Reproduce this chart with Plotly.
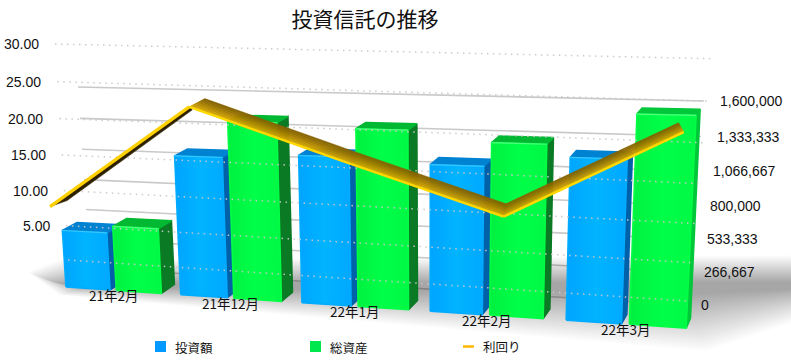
import numpy as np
import plotly.graph_objects as go

# ---------- data ----------
categories = ["21年2月", "21年12月", "22年1月", "22年2月", "22年3月"]
invested = [475000, 1120000, 1155000, 1120000, 1205000]
assets = [530000, 1400000, 1370000, 1295000, 1525000]
yields = [7.6, 22.2, 15.8, 9.6, 21.2]
left_ticks = [0, 5, 10, 15, 20, 25, 30]
left_labels = ["", "5.00", "10.00", "15.00", "20.00", "25.00", "30.00"]
right_ticks = [0, 266667, 533333, 800000, 1066667, 1333333, 1600000]
right_labels = ["0", "266,667", "533,333", "800,000", "1,066,667", "1,333,333", "1,600,000"]
title = "投資信託の推移"
names = ["投資額", "総資産", "利回り"]

# ---------- perspective helpers ----------
def homography(corners):
    """corners: (u, v) -> (x, y) for four points"""
    A, b = [], []
    for (u, v), (x, y) in corners:
        A.append([u, v, 1, 0, 0, 0, -u * x, -v * x]); b.append(x)
        A.append([0, 0, 0, u, v, 1, -u * y, -v * y]); b.append(y)
    h = np.linalg.solve(np.array(A, float), np.array(b, float))
    def f(u, v):
        w = h[6] * u + h[7] * v + 1
        return np.array([(h[0] * u + h[1] * v + h[2]) / w, (h[3] * u + h[4] * v + h[5]) / w])
    return f

VMAX = right_ticks[-1]
LMAX = left_ticks[-1]
bar_plane = homography([((0, 0), (66, 287)), ((5, 0), (710.6, 329.7)),
                        ((0, VMAX), (53.5, 92)), ((5, VMAX), (722, 105))])
dot_plane = homography([((0, 0), (68, 260)), ((1, 0), (687, 301)),
                        ((0, LMAX), (55, 44)), ((1, LMAX), (711, 58.7))])
solid_plane = homography([((0, 0), (90, 268)), ((1, 0), (685, 305)),
                          ((0, VMAX), (78, 87)), ((1, VMAX), (704, 101))])
line_plane = homography([((0, 0), (53.3, 259)), ((4, 0), (667.8, 300)),
                         ((0, LMAX), (40, 43.7)), ((4, LMAX), (690.8, 58))])

VP = np.array([943.0, -252.0]); DEPTH = 1 / 60
VP_LINE = np.array([560.0, -90.0]); DEPTH_LINE = 0.042
UNDER_START = np.array([17.0, -6.0]); UNDER_END = np.array([3.0, 3.0])
def deep(p, d=DEPTH, vp=VP):
    return p + d * (vp - p)

fig = go.Figure()
def poly(points, color, lw=0.0, grad=None, name=None):
    pts = np.array(points + [points[0]])
    kw = dict(fillcolor=color) if grad is None else dict(
        fillgradient=dict(type="horizontal", colorscale=grad))
    fig.add_trace(go.Scatter(x=pts[:, 0], y=pts[:, 1], mode="lines", fill="toself",
                             line=dict(color=color, width=lw), showlegend=False,
                             hoverinfo="skip", name=name, **kw))
def seg(a, b, color, width, dash=None):
    fig.add_trace(go.Scatter(x=[a[0], b[0]], y=[a[1], b[1]], mode="lines",
                             line=dict(color=color, width=width, dash=dash),
                             showlegend=False, hoverinfo="skip"))

# ---------- back grid ----------
for v in right_ticks:
    seg(solid_plane(0, v), solid_plane(1, v), "#c9c9c9", 1.6)

# ---------- floor shadow ----------
shadow = np.array([(50, 277), (80, 269), (830, 266), (830, 296), (690, 328), (80, 292)], float)
cx, cy = 420.0, 286.0
LAYERS = 30
for k in range(LAYERS):
    t = k / (LAYERS - 1)
    sx = 1.06 - 0.08 * t
    sy = 1.55 - 1.35 * t
    pts = [np.array([cx + (p[0] - cx) * sx, cy + (p[1] - cy) * sy]) for p in shadow]
    poly(pts, "rgba(0,0,0,0.0105)")

# ---------- bars ----------
BAR_W = 0.39
GREEN_OFF = 0.445
STYLES = [
    dict(front="#00acff", side="#0060a8", top="#0082d2", hi="#38c8ff",
         grad=[[0, "#00a4ff"], [0.5, "#00b4ff"], [1, "#00a8ff"]]),
    dict(front="#00ff44", side="#0a7a25", top="#00b832", hi="#50ff80",
         grad=[[0, "#00f040"], [0.5, "#00ff48"], [1, "#00f844"]]),
]
def bar(u, val, st, name):
    a = bar_plane(u, 0); b = bar_plane(u + BAR_W, 0)
    c = bar_plane(u + BAR_W, val); d = bar_plane(u, val)
    # the far right side is seen at a glancing angle and reads lighter
    side = "#00c83a" if (u > 4.3) else st["side"]
    top = "#00c83a" if (u > 4.3) else st["top"]
    poly([b, deep(b), deep(c), c], side, 1.6, name=name)
    poly([d, c, deep(c), deep(d)], top, 1.6, name=name)
    poly([a, b, c, d], st["front"], 1.6, grad=st["grad"], name=name)
    seg(d, c, st["hi"], 1.2)

for i in range(len(categories)):
    bar(i, invested[i], STYLES[0], names[0])
    bar(i + GREEN_OFF, assets[i], STYLES[1], names[1])

# ---------- front dotted grid ----------
for v in left_ticks:
    seg(dot_plane(0, v), dot_plane(1, v), "rgba(200,200,200,0.95)", 1.5, "1.5px,4.5px")

# ---------- yield ribbon ----------
front = [line_plane(i, y) for i, y in enumerate(yields)]
back = [deep(p, DEPTH_LINE, VP_LINE) for p in front]
GOLD_COLS = ["#d8aa00", "#cda000", "#c09400", "#b38900", "#a67e00", "#9a7400", "#8f6c00", "#866400"]
for i in range(len(front) - 1):
    a, b, c, d = front[i], front[i + 1], back[i + 1], back[i]
    under = (b - a)[0] * (d - a)[1] - (b - a)[1] * (d - a)[0] > 0
    if under:
        poly([a, b, b + UNDER_END, a + UNDER_START], "#2e2100", 0.6, name=names[2])
    else:
        n = len(GOLD_COLS)
        for j, col in enumerate(GOLD_COLS):
            t0, t1 = j / n, (j + 1) / n
            poly([a + (d - a) * t0, b + (c - b) * t0, b + (c - b) * t1, a + (d - a) * t1], col, 0.5, name=names[2])
for i in range(len(front) - 1):
    seg(front[i], front[i + 1], "#ffd000" if i == 0 else "#ffd800", 3.2 if i == 0 else 2.4)

# ---------- text ----------
ann = []
def text(x, y, s, size, anchor="center", family="Noto Sans CJK JP"):
    ann.append(dict(x=x, y=y, xref="x", yref="y", text=s, showarrow=False, xanchor=anchor,
                    yanchor="middle", font=dict(size=size, family=family, color="#111111")))
for v, lab in zip(left_ticks, left_labels):
    if lab:
        p = dot_plane(0, v)
        text(p[0] - 14, p[1], lab, 14, "right", "Liberation Sans")
for v, lab in zip(right_ticks, right_labels):
    p = solid_plane(1, v)
    text(p[0] + 14, p[1], lab, 14, "left", "Liberation Sans")
for i, c in enumerate(categories):
    p = bar_plane(i + 0.42, 0)
    text(p[0], p[1] + 5, c, 13.5)

# legend
for x0, col, nm in [(155, "#0099ff", names[0]), (310, "#00e64d", names[1])]:
    fig.add_shape(type="rect", x0=x0, x1=x0 + 11, y0=341, y1=352, xref="x", yref="y",
                  fillcolor=col, line_width=0)
    text(x0 + 18, 347, nm, 12.5, "left")
fig.add_shape(type="line", x0=463, x1=474, y0=346.5, y1=346.5, xref="x", yref="y",
              line=dict(color="#ffb700", width=2.5))
text(481, 346, names[2], 12.5, "left")

fig.update_layout(
    width=791, height=363, margin=dict(l=0, r=0, t=0, b=0),
    paper_bgcolor="white", plot_bgcolor="white", showlegend=False,
    title=dict(text=title, x=365 / 791, y=1 - 20 / 363, xanchor="center", yanchor="middle",
               font=dict(size=21, family="Noto Sans CJK JP", color="#111111")),
    xaxis=dict(range=[0, 791], visible=False, fixedrange=True),
    yaxis=dict(range=[363, 0], visible=False, fixedrange=True),
    annotations=ann,
)
fig.write_html("out.html", config=dict(displayModeBar=False),
               post_script="document.body.style.margin='0';document.body.style.overflow='hidden';")
